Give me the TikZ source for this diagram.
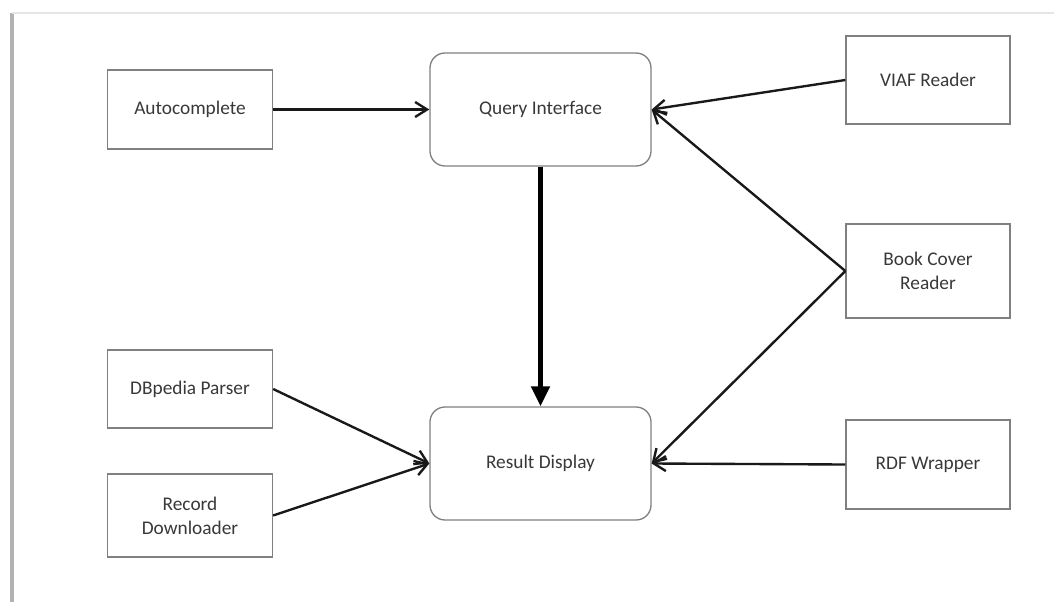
\documentclass[tikz,border=0pt]{standalone}
\usepackage{fontspec}
\setmainfont{Carlito}
\usetikzlibrary{positioning, arrows.meta}

\begin{document}
\begin{tikzpicture}[
      font=\fontsize{11}{13.5}\selectfont,
      mod/.style={rectangle, draw=black!50, line width=0.75pt, text=black!78,
                  minimum width=3.3cm, align=center},
      core/.style={rectangle, rounded corners=3mm, draw=black!50, line width=0.75pt,
                   text=black!78, minimum width=4.42cm, minimum height=2.26cm},
      link/.style={-{Straight Barb[length=2.4mm,width=3mm]}, line width=1.35pt, black!90},
      main/.style={-{Triangle[length=4mm,width=3.6mm]}, line width=2.8pt}]
    \useasboundingbox (0,0) rectangle (21.08,-12.04);
    % frame of the page
    \draw[black!30, line width=1.8pt] (0.24,-12.04) -- (0.24,-0.26);
    \draw[black!10, line width=0.8pt] (0.24,-0.26) -- (21.08,-0.26);
    % centre column
    \node[core] (qi) at (10.81,-2.19) {Query Interface};
    \node[core] (rd) at (10.81,-9.27) {Result Display};
    % left column
    \node[mod, minimum height=1.58cm] (auto) at (3.80,-2.19) {Autocomplete};
    \node[mod, minimum height=1.56cm] (dbp) at (3.80,-7.78) {DBpedia Parser};
    \node[mod, minimum height=1.66cm] (rec) at (3.80,-10.31) {Record\\Downloader};
    % right column
    \node[mod, minimum width=3.28cm, minimum height=1.76cm] (viaf) at (18.56,-1.60) {VIAF Reader};
    \node[mod, minimum width=3.28cm, minimum height=1.88cm] (book) at (18.56,-5.42) {Book Cover\\Reader};
    \node[mod, minimum width=3.28cm, minimum height=1.78cm] (rdf) at (18.56,-9.29) {RDF Wrapper};
    % connectors
    \draw[link] (auto.east) -- (qi.west);
    \draw[link] (viaf.west) -- (qi.east);
    \draw[link] (book.west) -- (qi.east);
    \draw[link] (book.west) -- (rd.east);
    \draw[link] (rdf.west) -- (rd.east);
    \draw[link] (dbp.east) -- (rd.west);
    \draw[link] (rec.east) -- (rd.west);
    \draw[main] (qi.south) -- (rd.north);
\end{tikzpicture}
\end{document}
